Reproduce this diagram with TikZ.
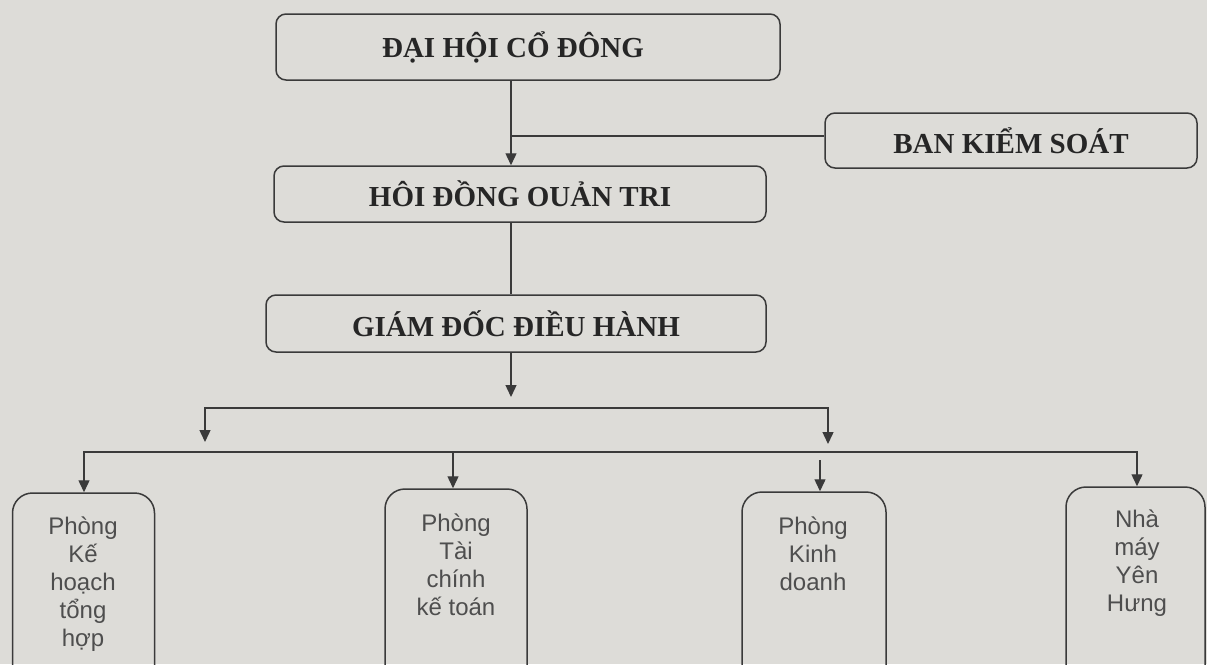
\documentclass[tikz,border=0pt]{standalone}
\usepackage{fontspec}
\setmainfont{Liberation Serif}
\newfontfamily\arialf{Liberation Sans}
\usetikzlibrary{arrows.meta}
\definecolor{bg}{HTML}{DDDCD8}
\definecolor{ln}{HTML}{3A3A3A}
\definecolor{tx}{HTML}{262626}
\definecolor{txs}{HTML}{4E4E4E}
\begin{document}
\begin{tikzpicture}[x=1pt,y=-1pt,
 topbox/.style={draw=ln, line width=1.5pt, rounded corners=10pt, inner sep=0pt, font=\fontsize{29}{32}\selectfont\bfseries, text=tx},
 subbox/.style={draw=ln, line width=1.5pt, rounded corners=20pt, inner sep=0pt},
 subtext/.style={align=center, font=\arialf\fontsize{24}{27.8}\selectfont, text=txs, anchor=north, inner sep=0pt},
 conn/.style={draw=ln, line width=1.4pt},
 arr/.style={conn, -{Triangle[length=12pt,width=11pt]}},
 dbl/.style={conn, {Triangle[length=12pt,width=11pt]}-{Triangle[length=12pt,width=11pt]}}]
\fill[bg] (0,0) rectangle (1207,664);
\useasboundingbox (0,0) rectangle (1207,664);
\clip (0,0) rectangle (1207,664);

% main boxes
\node[topbox, minimum width=504pt, minimum height=66pt] (dh) at (528,47) {ĐẠI HỘI CỔ ĐÔNG\kern30pt\relax};
\node[topbox, minimum width=372pt, minimum height=55pt] (bk) at (1011,140.5) {BAN KIỂM SOÁT};
\node[topbox, minimum width=492pt, minimum height=56pt] (hd) at (520,194) {HÔI ĐỒNG OUẢN TRI};
\node[topbox, minimum width=500pt, minimum height=57pt] (gd) at (516,323.5) {GIÁM ĐỐC ĐIỀU HÀNH};

% sub boxes
\node[subbox, minimum width=142pt, minimum height=220pt] (b1) at (83.5,603) {};
\node[subbox, minimum width=142pt, minimum height=220pt] (b2) at (456,599) {};
\node[subbox, minimum width=144pt, minimum height=220pt] (b3) at (814,602) {};
\node[subbox, minimum width=139pt, minimum height=220pt] (b4) at (1135.5,597) {};

\node[subtext] (t1) at (83,517) {Phòng\\Kế\\hoạch\\tổng\\hợp};
\node[subtext] (t2) at (456,514) {Phòng\\Tài\\chính\\kế toán};
\node[subtext] (t3) at (813,517) {Phòng\\Kinh\\doanh};
\node[subtext] (t4) at (1137,510) {Nhà\\máy\\Yên\\Hưng};

% connectors
\coordinate (c1) at (511,136);
\draw[arr] (c1 |- dh.south) -- (c1 |- hd.north);
\draw[conn] (c1) -- (c1 -| bk.west);
\draw[conn] (c1 |- hd.south) -- (c1 |- gd.north);
\coordinate (c2) at (511,397);
\draw[arr] (c2 |- gd.south) -- (c2);

\coordinate (ha) at (205,442);
\coordinate (hb) at (828,444);
\coordinate (hy) at (0,408);
\draw[dbl] (ha) -- (ha |- hy) -- (hb |- hy) -- (hb);

\coordinate (k1) at (84,0);
\coordinate (k2) at (453,0);
\coordinate (k3) at (820,460);
\coordinate (k4) at (1137,0);
\coordinate (ky) at (0,452);
\draw[dbl] (k1 |- b1.north) -- (k1 |- ky) -- (k4 |- ky) -- (k4 |- b4.north);
\draw[arr] (k2 |- ky) -- (k2 |- b2.north);
\draw[arr] (k3) -- (k3 |- b3.north);
\end{tikzpicture}
\end{document}
